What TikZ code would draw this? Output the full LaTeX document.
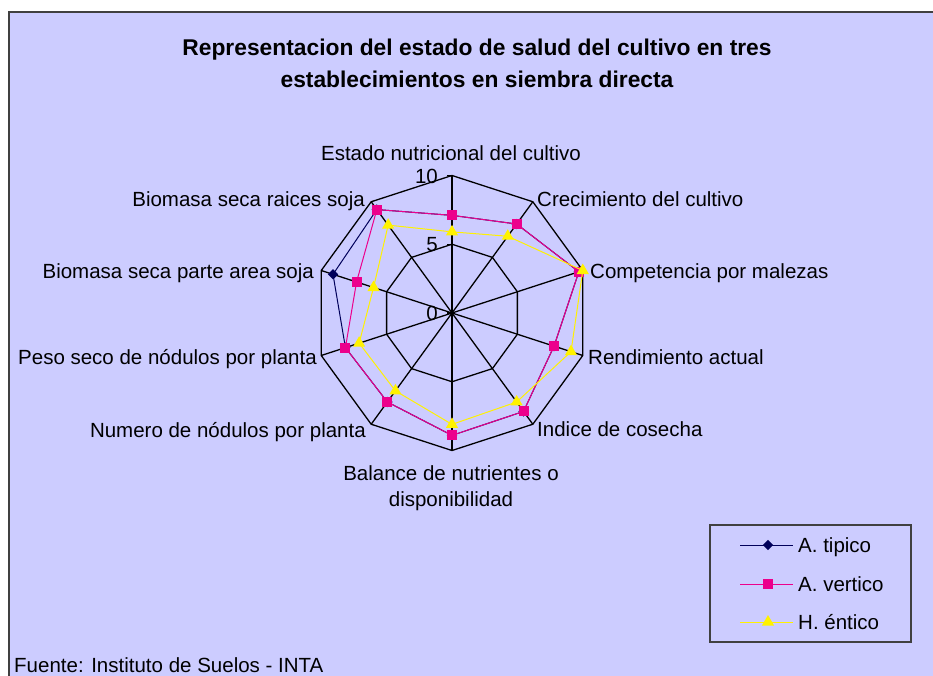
\documentclass[tikz,border=0pt]{standalone}
\usepackage{fontspec}
\setmainfont{Liberation Sans}
\usetikzlibrary{shapes.geometric}
\definecolor{fondo}{RGB}{204,204,255}
\definecolor{marco}{RGB}{64,64,64}
\definecolor{azul}{RGB}{0,0,90}

\begin{document}
\begin{tikzpicture}[x=1pt, y=1pt,
    lbl/.style={font=\fontsize{20.5}{26}\selectfont, inner sep=1pt,
      text height=0.75em, text depth=0.2em, yshift=-5pt},
    rejilla/.style={black, line width=1.3pt},
    tipico/.style={azul, line width=1pt},
    vertico/.style={magenta, line width=1pt},
    entico/.style={yellow, line width=1pt},
    mtip/.style={diamond, fill=azul, inner sep=0pt, minimum size=10.5pt},
    mver/.style={rectangle, fill=magenta, inner sep=0pt, minimum size=10pt},
    ment/.style={regular polygon, regular polygon sides=3, fill=yellow,
      inner sep=0pt, minimum size=14pt}]
    \useasboundingbox (0,0) rectangle (933,675);
    \fill[white] (0,0) rectangle (933,675);
    \filldraw[fill=fondo, draw=marco, line width=2pt] (8.5,-10) rectangle (945,662.5);
    \node[font=\bfseries\fontsize{22.8}{32}\selectfont, align=center] (titulo)
      at (477,612) {Representacion del estado de salud del cultivo en tres\\
      establecimientos en siembra directa};
    % Radar
    \begin{scope}[shift={(452,362)}]
    \foreach \i in {0,...,9}
    \draw[rejilla] (0,0) -- ({90-36*\i}:137.5);
    \foreach \r in {68.75,137.5}
    \draw[rejilla] (90:\r) \foreach \i in {1,...,9} { -- ({90-36*\i}:\r) } -- cycle;
    \foreach \r/\t in {0/0,68.75/5,137.5/10} {
      \draw[rejilla] (-5,\r) -- (0,\r);
      \node[lbl, anchor=east] (esc\t) at (-13,\r) {\t};
    }
    \foreach \v [count=\i from 0] in {7.1,8.0,9.7,7.8,8.85,8.9,8.0,8.15,9.1,9.3}
    \coordinate (t\i) at ({90-36*\i}:{13.75*\v});
    \foreach \v [count=\i from 0] in {7.1,8.0,9.7,7.8,8.85,8.9,8.0,8.15,7.3,9.3}
    \coordinate (v\i) at ({90-36*\i}:{13.75*\v});
    \foreach \v [count=\i from 0] in {5.9,6.9,10,9.1,8.0,8.1,7.0,7.1,6.0,7.9}
    \coordinate (h\i) at ({90-36*\i}:{13.75*\v});
    \draw[tipico] (t0) \foreach \i in {1,...,9} { -- (t\i) } -- cycle;
    \foreach \i in {0,...,9} \node[mtip] (mt\i) at (t\i) {};
    \draw[vertico] (v0) \foreach \i in {1,...,9} { -- (v\i) } -- cycle;
    \foreach \i in {0,...,9} \node[mver] (mv\i) at (v\i) {};
    \draw[entico] (h0) \foreach \i in {1,...,9} { -- (h\i) } -- cycle;
    \foreach \i in {0,...,9} \node[ment] (mh\i) at (h\i) {};
    \end{scope}
    % Ejes
    \node[lbl] (eje0) at (451,522) {Estado nutricional del cultivo};
    \node[lbl, anchor=west] (eje1) at (536,476) {Crecimiento del cultivo};
    \node[lbl, anchor=west] (eje2) at (589,404) {Competencia por malezas};
    \node[lbl, anchor=west] (eje3) at (587,318) {Rendimiento actual};
    \node[lbl, anchor=west] (eje4) at (536,246) {Indice de cosecha};
    \node[lbl, align=center] (eje5) at (451,176) {Balance de nutrientes o\\disponibilidad};
    \node[lbl, anchor=east] (eje6) at (367,245) {Numero de nódulos por planta};
    \node[lbl, anchor=east] (eje7) at (318,318) {Peso seco de nódulos por planta};
    \node[lbl, anchor=east] (eje8) at (315,404) {Biomasa seca parte area soja};
    \node[lbl, anchor=east] (eje9) at (366,476) {Biomasa seca raices soja};
    % Leyenda
    \node[draw=marco, line width=2pt, minimum width=201pt, minimum height=117pt]
      (leyenda) at (810.5,91.5) {};
    \foreach \y/\s/\m/\t in {130/tipico/mtip/A. tipico,91/vertico/mver/A. vertico,
      53/entico/ment/H. éntico} {
      \coordinate (ini\s) at (740,\y);
      \coordinate (fin\s) at (793,\y);
      \draw[\s] (ini\s) -- (fin\s);
      \node[\m] (ley\s) at (768,\y) {};
      \node[lbl, anchor=west] (txt\s) at (797,\y) {\t};
    }
    \node[lbl, anchor=base west, yshift=5pt, text depth=0pt] (fuente) at (13,3)
      {Fuente: Instituto de Suelos - INTA};
\end{tikzpicture}
\end{document}
